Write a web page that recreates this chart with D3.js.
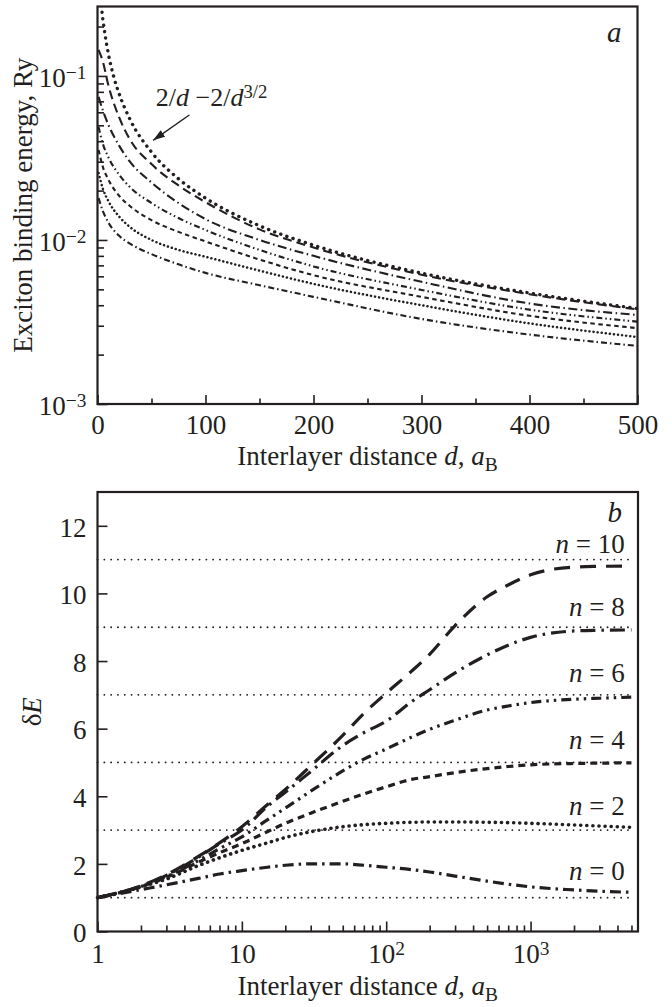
<!DOCTYPE html>
<html lang="en">
<head>
<meta charset="utf-8">
<title>exciton binding energy</title>
<script src="https://cdn.jsdelivr.net/npm/d3@7"></script>
<style>
  body { margin: 0; background: #fff; }
  svg text { font-family: "Liberation Serif", "Times New Roman", serif; fill: #231f20; }
</style>
</head>
<body>
<script>
// ---- panel a data: binding energy (Ry) vs interlayer distance d
var distA = [1, 5, 10, 20, 30, 50, 75, 100, 150, 200, 300, 400, 500];
var energyN0  = [0.0180, 0.0150, 0.0128, 0.0106, 0.0095, 0.0082, 0.0071, 0.0063, 0.0053, 0.0045, 0.0033, 0.00265, 0.00226];
var energyN2  = [0.0256, 0.0205, 0.0173, 0.0139, 0.0120, 0.0100, 0.0087, 0.0079, 0.0065, 0.0054, 0.0040, 0.0031, 0.00256];
var energyN4  = [0.0354, 0.0278, 0.0234, 0.0186, 0.0161, 0.0132, 0.0112, 0.0098, 0.0076, 0.0061, 0.0045, 0.00345, 0.0029];
var energyN6  = [0.0489, 0.0385, 0.0320, 0.0250, 0.0210, 0.0168, 0.0136, 0.0115, 0.0087, 0.0069, 0.00496, 0.00376, 0.00318];
var energyN8  = [0.0745, 0.0615, 0.0505, 0.0376, 0.0300, 0.0224, 0.0168, 0.0134, 0.0100, 0.0080, 0.00556, 0.00410, 0.00349];
var energyN10 = [0.144, 0.122, 0.088, 0.0560, 0.0410, 0.0290, 0.0215, 0.0170, 0.0116, 0.0090, 0.00614, 0.00467, 0.00377];
// upper dotted curve 2/d - 2/d^(3/2)
var distF = [2, 3, 5, 7, 10, 15, 20, 30, 50, 75, 100, 150, 200, 300, 400, 500];
var energyF = [0.293, 0.282, 0.221, 0.178, 0.137, 0.099, 0.078, 0.0545, 0.0343, 0.0236, 0.018, 0.0122, 0.0093, 0.00628, 0.00475, 0.00382];

// ---- panel b data: deltaE vs d (log)
var distB = [1, 2, 3, 5, 7, 10, 15, 20, 30, 50, 70, 100, 150, 200, 300, 500, 700, 1000, 2000, 3000, 5000];
var deltaN0  = [1.0, 1.24, 1.38, 1.57, 1.7, 1.8, 1.9, 1.96, 2.0, 2.0, 1.96, 1.9, 1.83, 1.76, 1.64, 1.49, 1.4, 1.32, 1.23, 1.19, 1.16];
var deltaN2  = [1.0, 1.32, 1.55, 1.95, 2.18, 2.4, 2.62, 2.78, 2.95, 3.1, 3.16, 3.2, 3.23, 3.24, 3.24, 3.23, 3.22, 3.2, 3.15, 3.12, 3.08];
var deltaN4  = [1.0, 1.33, 1.6, 2.05, 2.33, 2.6, 2.95, 3.2, 3.5, 3.85, 4.07, 4.28, 4.5, 4.58, 4.7, 4.82, 4.88, 4.93, 4.97, 4.98, 4.99];
var deltaN6  = [1.0, 1.33, 1.62, 2.1, 2.45, 2.8, 3.3, 3.65, 4.15, 4.75, 5.1, 5.4, 5.75, 5.98, 6.25, 6.55, 6.67, 6.77, 6.87, 6.9, 6.93];
var deltaN8  = [1.0, 1.34, 1.66, 2.2, 2.6, 3.0, 3.7, 4.12, 4.73, 5.5, 5.88, 6.22, 6.8, 7.15, 7.65, 8.18, 8.47, 8.7, 8.89, 8.91, 8.92];
var deltaN10 = [1.0, 1.35, 1.68, 2.22, 2.62, 3.1, 3.75, 4.2, 4.9, 5.8, 6.45, 7.05, 7.7, 8.2, 9.05, 9.9, 10.25, 10.55, 10.78, 10.8, 10.81];
var levelsB = [1, 3, 5, 7, 9, 11];          // n + 1 asymptotes
var levelNames = ["0", "2", "4", "6", "8", "10"];
var levelLabelY = [1.53, 3.46, 5.41, 7.37, 9.33, 11.2];

// ---- tick values
var xTicksA = [0, 100, 200, 300, 400, 500];
var xMinorA = [50, 150, 250, 350, 450];
var yTicksA = [1e-3, 1e-2, 1e-1];
var yTicksB = [0, 2, 4, 6, 8, 10, 12];
var xTicksB = [1, 10, 100, 1000];

var FS = 27;
var W = 672, H = 1007;
var svg = d3.select("body").append("svg").attr("width", W).attr("height", H);

// line styles per curve (panel a thin, panel b thick)
var stylesA = [
  {y: energyN0,  dash: "6,3,1.5,3",        w: 2.1},
  {y: energyN2,  dash: "0.1,4",            w: 2.5},
  {y: energyN4,  dash: "4.5,3.5",          w: 2.1},
  {y: energyN6,  dash: "6,3,1.5,3,1.5,3",  w: 2.1},
  {y: energyN8,  dash: "9,3.5,1.5,3.5",    w: 2.1},
  {y: energyN10, dash: "9,5",              w: 2.1}
];
var stylesB = [
  {y: deltaN0,  dash: "11,5,2.5,5",           w: 3.2},
  {y: deltaN2,  dash: "0.1,6",                w: 3.6},
  {y: deltaN4,  dash: "7,5",                  w: 3.2},
  {y: deltaN6,  dash: "10,5,2.5,5,2.5,5",     w: 3.2},
  {y: deltaN8,  dash: "15,6,2.5,6",           w: 3.2},
  {y: deltaN10, dash: "16,10",                w: 3.2}
];

function supLabels(g) {
  g.selectAll(".tick text").each(function(d) {
    var t = d3.select(this), p = Math.round(Math.log10(d));
    t.text(null);
    if (p === 0) { t.text("1"); return; }
    if (p === 1) { t.text("10"); return; }
    t.append("tspan").text("10");
    t.append("tspan").attr("dy", "-0.42em").attr("font-size", "0.72em")
      .text(p < 0 ? "\u2212" + (-p) : String(p));
  });
}

function styleAxis(g) {
  g.attr("font-size", FS).attr("font-family", null);
  g.select(".domain").remove();
  g.selectAll(".tick line").attr("stroke", "#231f20").attr("stroke-width", 1.6);
}

// =============== panel a ===============
var fa = {left: 97.5, right: 637.5, top: 6.5, bottom: 404};
var xA = d3.scaleLinear().domain([0, 500]).range([fa.left, fa.right]);
var yA = d3.scaleLog().domain([1e-3, 0.265]).range([fa.bottom, fa.top]);

var gA = svg.append("g");
gA.append("clipPath").attr("id", "clipA").append("rect")
  .attr("x", fa.left).attr("y", fa.top).attr("width", fa.right - fa.left).attr("height", fa.bottom - fa.top);

var yMinorA = [];
[1e-3, 1e-2, 1e-1].forEach(function(b) {
  for (var k = 2; k <= 9; k++) if (b * k < 0.265) yMinorA.push(b * k);
});

gA.append("g").attr("transform", "translate(0," + fa.bottom + ")")
  .call(d3.axisBottom(xA).tickValues(xMinorA).tickSize(-5.5).tickFormat(""))
  .call(styleAxis);
gA.append("g").attr("transform", "translate(0," + fa.bottom + ")")
  .call(d3.axisBottom(xA).tickValues(xTicksA).tickSize(-9).tickPadding(11).tickFormat(d3.format("d")))
  .call(styleAxis);
gA.append("g").attr("transform", "translate(" + fa.left + ",0)")
  .call(d3.axisLeft(yA).tickValues(yMinorA).tickSize(-6.5).tickFormat(""))
  .call(styleAxis);
var yAxA = gA.append("g").attr("transform", "translate(" + fa.left + ",0)")
  .call(d3.axisLeft(yA).tickValues(yTicksA).tickSize(-10).tickPadding(11).tickFormat(function() { return ""; }))
  .call(styleAxis)
  .call(supLabels);
yAxA.selectAll(".tick text").attr("dy", "0.38em");

var lineA = d3.line().curve(d3.curveMonotoneX);
var curvesA = gA.append("g").attr("clip-path", "url(#clipA)");
stylesA.forEach(function(s) {
  curvesA.append("path")
    .attr("d", lineA(distA.map(function(d, i) { return [xA(d), yA(s.y[i])]; })))
    .attr("fill", "none").attr("stroke", "#231f20")
    .attr("stroke-width", s.w).attr("stroke-dasharray", s.dash)
    .attr("stroke-linecap", s.dash.indexOf("0.1") === 0 ? "round" : "butt");
});
curvesA.append("path")
  .attr("d", lineA(distF.map(function(d, i) { return [xA(d), yA(energyF[i])]; })))
  .attr("fill", "none").attr("stroke", "#231f20")
  .attr("stroke-width", 3.4).attr("stroke-dasharray", "0.1,6.4").attr("stroke-linecap", "round");

gA.append("rect").attr("x", fa.left).attr("y", fa.top)
  .attr("width", fa.right - fa.left).attr("height", fa.bottom - fa.top)
  .attr("fill", "none").attr("stroke", "#231f20").attr("stroke-width", 2.2);

// arrow + formula label
svg.append("defs").append("marker").attr("id", "arr")
  .attr("viewBox", "0 0 12 8").attr("refX", 12).attr("refY", 4)
  .attr("markerWidth", 12).attr("markerHeight", 8).attr("markerUnits", "userSpaceOnUse")
  .attr("orient", "auto")
  .append("path").attr("d", "M0,0 L12,4 L0,8 Z").attr("fill", "#231f20");
gA.append("line")
  .attr("x1", xA(85)).attr("y1", yA(0.0578)).attr("x2", xA(51.5)).attr("y2", yA(0.0405))
  .attr("stroke", "#231f20").attr("stroke-width", 1.4).attr("marker-end", "url(#arr)");
var fl = gA.append("text").attr("x", xA(54)).attr("y", yA(0.0655)).attr("font-size", 26);
fl.append("tspan").text("2/");
fl.append("tspan").attr("font-style", "italic").text("d");
fl.append("tspan").text(" \u22122/");
fl.append("tspan").attr("font-style", "italic").text("d");
fl.append("tspan").attr("dy", "-0.42em").attr("font-size", "0.72em").text("3/2");

gA.append("text").attr("x", fa.right - 16).attr("y", fa.top + 35)
  .attr("text-anchor", "end").attr("font-size", 29).attr("font-style", "italic").text("a");

gA.append("text").attr("transform", "translate(32," + ((fa.top + fa.bottom) / 2) + ") rotate(-90)")
  .attr("text-anchor", "middle").attr("font-size", FS).text("Exciton binding energy, Ry");

function xTitle(g, xc, yb) {
  var t = g.append("text").attr("x", xc).attr("y", yb).attr("text-anchor", "middle").attr("font-size", FS);
  t.append("tspan").text("Interlayer distance ");
  t.append("tspan").attr("font-style", "italic").text("d");
  t.append("tspan").text(", ");
  t.append("tspan").attr("font-style", "italic").text("a");
  t.append("tspan").attr("dy", "0.3em").attr("font-size", "0.72em").text("B");
}
xTitle(gA, (fa.left + fa.right) / 2, 465);

// =============== panel b ===============
var fb = {left: 97.5, right: 638, top: 492, bottom: 931.5};
var xB = d3.scaleLog().domain([1, 5550]).range([fb.left, fb.right]);
var yB = d3.scaleLinear().domain([0, 13]).range([fb.bottom, fb.top]);
var gB = svg.append("g");

var xMinorB = [];
[1, 10, 100, 1000].forEach(function(b) {
  for (var k = 2; k <= 9; k++) if (b * k < 5550) xMinorB.push(b * k);
});

gB.append("g").attr("transform", "translate(0," + fb.bottom + ")")
  .call(d3.axisBottom(xB).tickValues(xMinorB).tickSize(-6).tickFormat(""))
  .call(styleAxis);
gB.append("g").attr("transform", "translate(0," + fb.bottom + ")")
  .call(d3.axisBottom(xB).tickValues(xTicksB).tickSize(-10).tickPadding(12).tickFormat(function() { return ""; }))
  .call(styleAxis)
  .call(supLabels);
gB.append("g").attr("transform", "translate(" + fb.left + ",0)")
  .call(d3.axisLeft(yB).tickValues(yTicksB).tickSize(-10).tickPadding(11).tickFormat(d3.format("d")))
  .call(styleAxis)
  .selectAll(".tick text").attr("dy", "0.38em");

// asymptote levels
gB.selectAll(".level").data(levelsB).enter().append("line")
  .attr("class", "level")
  .attr("x1", xB(1)).attr("x2", xB(5000))
  .attr("y1", function(d) { return yB(d); }).attr("y2", function(d) { return yB(d); })
  .attr("stroke", "#231f20").attr("stroke-width", 1.8)
  .attr("stroke-dasharray", "0.1,6.7").attr("stroke-linecap", "round");

var lineB = d3.line().curve(d3.curveMonotoneX);
stylesB.forEach(function(s) {
  gB.append("path")
    .attr("d", lineB(distB.map(function(d, i) { return [xB(d), yB(s.y[i])]; })))
    .attr("fill", "none").attr("stroke", "#231f20")
    .attr("stroke-width", s.w).attr("stroke-dasharray", s.dash)
    .attr("stroke-linecap", s.dash.indexOf("0.1") === 0 ? "round" : "butt");
});

levelNames.forEach(function(n, i) {
  var t = gB.append("text").attr("x", xB(4500)).attr("y", yB(levelLabelY[i]))
    .attr("text-anchor", "end").attr("font-size", FS);
  t.append("tspan").attr("font-style", "italic").text("n");
  t.append("tspan").text(" = " + n);
});

gB.append("rect").attr("x", fb.left).attr("y", fb.top)
  .attr("width", fb.right - fb.left).attr("height", fb.bottom - fb.top)
  .attr("fill", "none").attr("stroke", "#231f20").attr("stroke-width", 2.2);

gB.append("text").attr("x", fb.right - 16).attr("y", fb.top + 30)
  .attr("text-anchor", "end").attr("font-size", 29).attr("font-style", "italic").text("b");

var yt = gB.append("text").attr("transform", "translate(41," + ((fb.top + fb.bottom) / 2) + ") rotate(-90)")
  .attr("text-anchor", "middle").attr("font-size", FS);
yt.append("tspan").text("\u03b4");
yt.append("tspan").attr("font-style", "italic").text("E");

xTitle(gB, (fb.left + fb.right) / 2, 995);
</script>
</body>
</html>
